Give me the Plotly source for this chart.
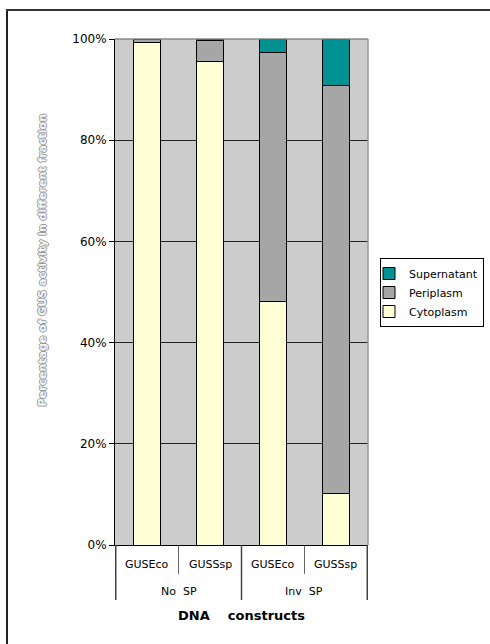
import plotly.graph_objects as go

groups = ["No SP", "No SP", "Inv SP", "Inv SP"]
constructs = ["GUSEco", "GUSSsp", "GUSEco", "GUSSsp"]
group_labels = ["No\u00a0\u00a0SP", "Inv\u00a0\u00a0SP"]
cytoplasm = [99.35, 95.6, 48.2, 10.1]
periplasm = [0.65, 4.1, 49.2, 80.75]
supernatant = [0.0, 0.3, 2.6, 9.15]
y_ticks = [0, 20, 40, 60, 80, 100]
y_ticklabels = ["0%", "20%", "40%", "60%", "80%", "100%"]

W, H = 490, 644
L, R, T, B = 115, 122, 39, 99
pw, ph = W - L - R, H - T - B


def px_x(p):
    return (p - L) / pw


def px_y(p):
    return (H - B - p) / ph


x = [groups, constructs]
line = dict(color="black", width=1)

fig = go.Figure()
fig.add_trace(go.Bar(x=x, y=cytoplasm, name="Cytoplasm",
                     marker=dict(color="#ffffd6", line=line)))
fig.add_trace(go.Bar(x=x, y=periplasm, name="Periplasm",
                     marker=dict(color="#a6a6a6", line=line)))
fig.add_trace(go.Bar(x=x, y=supernatant, name="Supernatant",
                     marker=dict(color="#009292", line=line)))

annotations = []
for i, c in enumerate(constructs):
    annotations.append(dict(text=c, x=i, xref="x", yref="paper", y=px_y(564),
                            yanchor="middle", showarrow=False,
                            font=dict(size=11, family="DejaVu Sans")))
for g, lab in enumerate(group_labels):
    annotations.append(dict(text=lab, x=2 * g + 0.5, xref="x", yref="paper",
                            y=px_y(591), yanchor="middle", showarrow=False,
                            font=dict(size=11, family="DejaVu Sans")))
annotations.append(dict(text="DNA\u00a0\u00a0\u00a0\u00a0constructs", xref="paper",
                        yref="paper", x=0.5, y=px_y(615), yanchor="middle",
                        showarrow=False,
                        font=dict(size=13, family="DejaVu Sans", weight="bold")))
annotations.append(dict(text="Percentage of GUS activity in different fraction",
                        xref="paper", yref="paper", x=px_x(33), y=px_y(261),
                        showarrow=False, textangle=-90,
                        font=dict(size=11, family="DejaVu Sans", color="#f6f6f6",
                                  weight="bold",
                                  shadow="1px 0 0 #999, -1px 0 0 #999, 0 1px 0 #999, 0 -1px 0 #999")))

shapes = [
    dict(type="line", xref="paper", yref="paper", x0=px_x(7), x1=px_x(7),
         y0=px_y(650), y1=px_y(10), line=dict(color="#222222", width=2)),
    dict(type="line", xref="paper", yref="paper", x0=px_x(6), x1=px_x(500),
         y0=px_y(10), y1=px_y(10), line=dict(color="#333333", width=2)),
    dict(type="line", xref="paper", yref="paper", x0=0, x1=1, y0=1, y1=1,
         line=dict(color="#888888", width=1.5)),
    dict(type="line", xref="paper", yref="paper", x0=1, x1=1, y0=0, y1=1,
         line=dict(color="#999999", width=1.5)),
]
for b in [-0.5, 1.5, 3.5]:
    shapes.append(dict(type="line", xref="x", yref="paper", x0=b, x1=b,
                       y0=0, y1=px_y(600), line=dict(color="#444444", width=1.5)))

fig.update_layout(
    width=W, height=H,
    margin=dict(l=L, r=R, t=T, b=B, autoexpand=False),
    barmode="stack", bargap=0.573,
    paper_bgcolor="white", plot_bgcolor="#cccccc",
    font=dict(family="DejaVu Sans", size=12, color="black"),
    showlegend=True,
    legend=dict(x=px_x(380), y=px_y(258), xanchor="left", yanchor="top",
                traceorder="reversed", bordercolor="black", borderwidth=1,
                bgcolor="white", font=dict(size=11, family="DejaVu Sans"),
                itemwidth=30, tracegroupgap=0, indentation=-12),
    xaxis=dict(type="multicategory", showgrid=False, showline=True,
               linecolor="black", linewidth=1, ticks="outside", ticklen=28,
               tickcolor="#666666", showticklabels=False, showdividers=False),
    yaxis=dict(range=[0, 100], tickvals=y_ticks, ticktext=y_ticklabels,
               showgrid=True, gridcolor="#222222", gridwidth=1,
               showline=True, linecolor="black", linewidth=1,
               ticks="outside", ticklen=5, tickcolor="black",
               tickfont=dict(size=12), zeroline=False),
    shapes=shapes,
    annotations=annotations,
)

fig.write_html("out.html")
